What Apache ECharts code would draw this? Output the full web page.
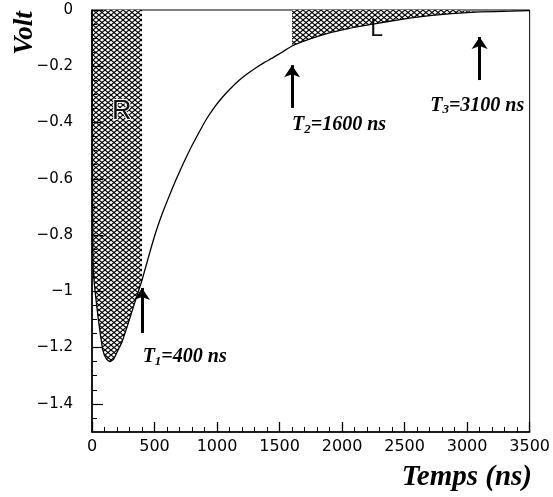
<!DOCTYPE html>
<html>
<head>
<meta charset="utf-8">
<script src="https://cdn.jsdelivr.net/npm/echarts@6/dist/echarts.min.js"></script>
<style>
html,body{margin:0;padding:0;background:#fff;}
#c{width:553px;height:497px;}
</style>
</head>
<body>
<div id="c"></div>
<script>
// ---- data ----
const times = [0, 4, 8, 20, 48, 87, 115, 143, 175, 207, 240, 278, 310, 342, 400, 460, 510, 565, 646, 710, 779, 850, 912, 980, 1043, 1110, 1177, 1245, 1312, 1380, 1441, 1520, 1600, 1750, 1892, 2050, 2210, 2380, 2552, 2720, 2900, 3100, 3350, 3500];
const volts = [0, -0.5, -0.9, -0.98, -1.09, -1.21, -1.24, -1.25, -1.24, -1.21, -1.18, -1.13, -1.085, -1.04, -0.96, -0.865, -0.79, -0.72, -0.63, -0.565, -0.5, -0.44, -0.39, -0.345, -0.31, -0.278, -0.25, -0.226, -0.205, -0.186, -0.171, -0.15, -0.128, -0.102, -0.082, -0.066, -0.053, -0.04, -0.028, -0.019, -0.012, -0.007, -0.004, -0.002];
const regionR = [0, 400];
const regionL = [1600, 3100];
const markerTimes = [400, 1600, 3100];
const markerSubs = ['1', '2', '3'];
const markerTexts = ['=400 ns', '=1600 ns', '=3100 ns'];
const arrowLow = [-1.148, -0.348, -0.249];
const arrowHigh = [-0.988, -0.196, -0.096];
const labelPos = [[405, -1.195], [1600, -0.37], [2705, -0.30]];
const yMajor = [0, -0.2, -0.4, -0.6, -0.8, -1, -1.2, -1.4];
const yMinor = [-0.05, -0.1, -0.15, -0.25, -0.3, -0.35, -0.45, -0.5, -0.55, -0.65, -0.7, -0.75, -0.85, -0.9, -0.95, -1.05, -1.1, -1.15, -1.25, -1.3, -1.35, -1.45];
const xTitle = 'Temps (ns)';
const yTitle = 'Volt';

// ---- hatch pattern ----
function makeHatch() {
  const w = 24, h = 20, px = 6;
  const cv = document.createElement('canvas');
  cv.width = w; cv.height = h;
  const ctx = cv.getContext('2d');
  ctx.fillStyle = '#fff';
  ctx.fillRect(0, 0, w, h);
  ctx.strokeStyle = '#000';
  ctx.lineWidth = 1.1;
  for (let k = -8; k <= 8; k++) {
    const x0 = px / 2 + px * k;
    ctx.beginPath(); ctx.moveTo(x0, 0); ctx.lineTo(x0 + w, h); ctx.stroke();
    ctx.beginPath(); ctx.moveTo(x0, h); ctx.lineTo(x0 + w, 0); ctx.stroke();
  }
  return cv;
}
const hatch = { image: makeHatch(), repeat: 'repeat' };

const pts = times.map((t, i) => [t, volts[i]]);
const inRange = (r) => pts.filter(p => p[0] >= r[0] && p[0] <= r[1]);

const serif = 'Liberation Serif';
const labelRich = {
  a: { fontFamily: serif, fontStyle: 'italic', fontWeight: 'bold', fontSize: 20, color: '#000', lineHeight: 22, verticalAlign: 'middle' },
  b: { fontFamily: serif, fontStyle: 'italic', fontWeight: 'bold', fontSize: 13, color: '#000', lineHeight: 10, verticalAlign: 'bottom', padding: [10, 0, 0, 0] }
};

const chart = echarts.init(document.getElementById('c'), null, { renderer: 'canvas' });
const yLabelFmt = v => {
  const r = parseFloat(v.toFixed(2));
  return r === 0 ? '0' : '\u2212' + Math.abs(r);
};

chart.setOption({
  animation: false,
  backgroundColor: '#fff',
  grid: { left: 92, right: 21, top: 10, bottom: 65, show: true, borderColor: '#000', borderWidth: 1, backgroundColor: 'transparent' },
  xAxis: {
    type: 'value', min: 0, max: 3500, interval: 500, position: 'bottom', z: 5,
    axisLine: { show: true, onZero: false, lineStyle: { color: '#000', width: 1.6 } },
    axisTick: { show: true, inside: true, length: 10, lineStyle: { color: '#000', width: 1.3 } },
    minorTick: { show: true, splitNumber: 5, length: 5, lineStyle: { color: '#000', width: 1 } },
    axisLabel: { color: '#000', fontFamily: 'DejaVu Sans', fontSize: 16, margin: 7, formatter: v => String(v) },
    splitLine: { show: false }
  },
  yAxis: [{
    type: 'value', min: -1.5, max: 0, position: 'left', z: 5,
    axisLine: { show: true, onZero: false, lineStyle: { color: '#000', width: 1.6 } },
    axisTick: { show: true, inside: true, length: 11, customValues: yMajor, lineStyle: { color: '#000', width: 1.2 } },
    axisLabel: { show: true, customValues: yMajor, formatter: yLabelFmt, color: '#000', fontFamily: 'DejaVu Sans', fontSize: 15, margin: 19 },
    splitLine: { show: false }
  }, {
    type: 'value', min: -1.5, max: 0, position: 'left', z: 5,
    axisLine: { show: false, onZero: false },
    axisTick: { show: true, inside: true, length: 5, customValues: yMinor, lineStyle: { color: '#000', width: 1 } },
    axisLabel: { show: false },
    splitLine: { show: false }
  }],
  graphic: [
    { type: 'text', right: 21, top: 463, style: { text: xTitle, fontFamily: serif, fontStyle: 'italic', fontWeight: 'bold', fontSize: 29, fill: '#000' } },
    { type: 'text', x: 25, y: 33, rotation: Math.PI / 2, style: { text: yTitle, align: 'center', verticalAlign: 'middle', fontFamily: serif, fontStyle: 'italic', fontWeight: 'bold', fontSize: 27, fill: '#000' } }
  ],
  series: [
    {
      type: 'line', data: inRange(regionR), showSymbol: false, silent: true,
      lineStyle: { width: 0 }, areaStyle: { color: hatch, opacity: 1, origin: 'end' }, z: 1
    },
    {
      type: 'line', data: inRange(regionL), showSymbol: false, silent: true,
      lineStyle: { width: 0 }, areaStyle: { color: hatch, opacity: 1, origin: 'end' }, z: 1
    },
    {
      type: 'line', data: pts, showSymbol: false, silent: true, smooth: 0.15,
      lineStyle: { color: '#000', width: 1.3 }, z: 3,
      markLine: {
        silent: true, symbol: ['none', 'arrow'], symbolSize: 12,
        lineStyle: { color: '#000', width: 3, type: 'solid' },
        label: { show: false },
        data: markerTimes.map((t, i) => [{ coord: [t, arrowLow[i]] }, { coord: [t, arrowHigh[i]] }])
      },
      markPoint: {
        silent: true, symbol: 'circle', symbolSize: 0,
        data: [
          ...markerTimes.map((t, i) => ({
            coord: labelPos[i],
            label: { show: true, position: [0, 0], align: 'left', verticalAlign: 'top',
              formatter: '{a|T}{b|' + markerSubs[i] + '}{a|' + markerTexts[i] + '}', rich: labelRich }
          })),
          { coord: [159, -0.313], label: { show: true, position: [0, 0], align: 'left', verticalAlign: 'top', formatter: 'R',
            fontFamily: 'Liberation Sans', fontSize: 27, color: '#111', textBorderColor: '#fff', textBorderWidth: 2 } },
          { coord: [2226, -0.028], label: { show: true, position: [0, 0], align: 'left', verticalAlign: 'top', formatter: 'L',
            fontFamily: 'Liberation Sans', fontSize: 23, color: '#111' } }
        ]
      }
    }
  ]
});
</script>
</body>
</html>
